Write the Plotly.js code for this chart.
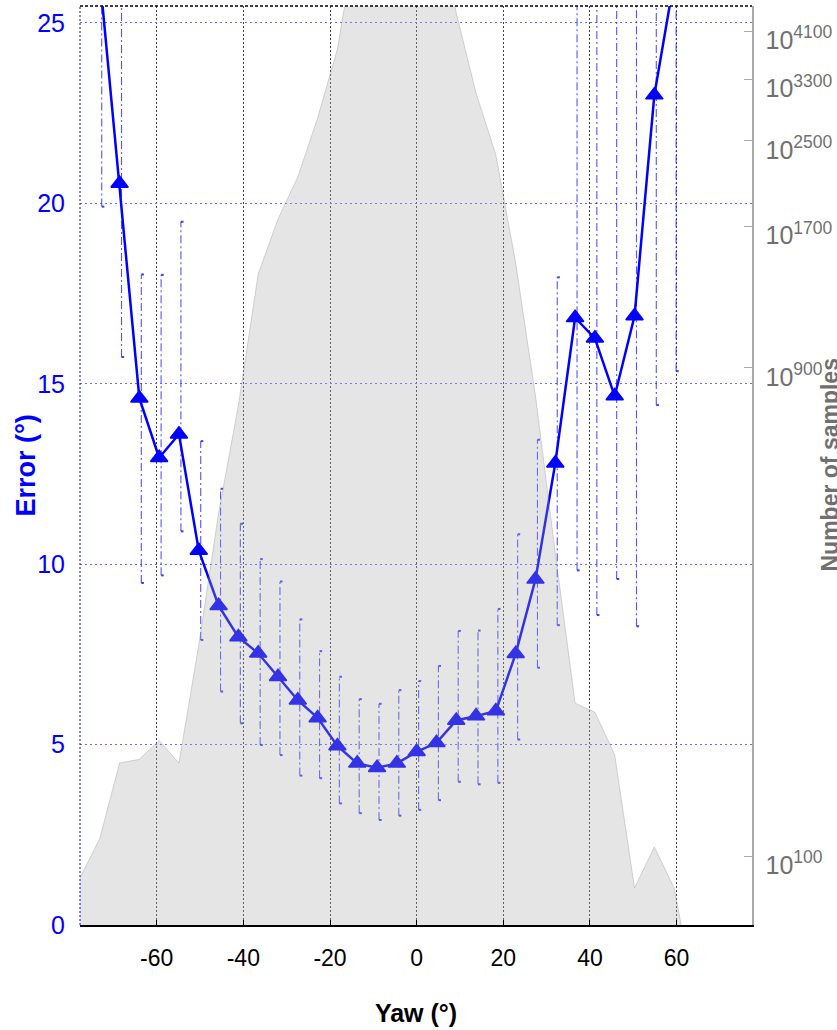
<!DOCTYPE html>
<html>
<head>
<meta charset="utf-8">
<script src="https://cdn.plot.ly/plotly-3.0.1.min.js"></script>
<style>html,body{margin:0;padding:0;background:#fff;}#chart{width:837px;height:1030px;}</style>
</head>
<body>
<div id="chart"></div>
<script>
// Yaw bin centres (degrees)
const yaw = [-77.71, -73.14, -68.57, -64.00, -59.43, -54.86, -50.29, -45.71, -41.14, -36.57,
             -32.00, -27.43, -22.86, -18.29, -13.71, -9.14, -4.57, 0.00, 4.57, 9.14,
             13.71, 18.29, 22.86, 27.43, 32.00, 36.57, 41.14, 45.71, 50.29, 54.86,
             59.43, 64.00, 68.57, 73.14, 77.71];
// Mean error (deg) per bin
const errMean = [null, 26.3, 20.55, 14.6, 12.95, 13.6, 10.38, 8.85, 7.98, 7.53,
                 6.88, 6.23, 5.74, 4.96, 4.48, 4.36, 4.48, 4.80, 5.05, 5.67,
                 5.79, 5.93, 7.52, 9.58, 12.80, 16.83, 16.26, 14.66, 16.88, 23.00,
                 26.2, null, null, null, null];
// Upper / lower bound of the error bars (deg)
const errHigh = [null, 32.7, 25.6, 18.03, 18.02, 19.49, 13.41, 12.09, 11.12, 10.14,
                 9.52, 8.47, 7.59, 6.88, 6.26, 6.13, 6.51, 6.76, 7.18, 8.15,
                 8.16, 8.76, 10.83, 13.45, 17.95, 26.5, 26.5, 27.0, 28.0, 31.0,
                 37.0, null, null, null, null];
const errLow = [null, 19.91, 15.74, 9.48, 9.69, 10.91, 7.90, 6.47, 5.59, 4.99,
                4.71, 4.14, 4.07, 3.37, 3.10, 2.91, 3.03, 3.19, 3.46, 3.97,
                3.90, 3.94, 5.14, 7.13, 8.31, 9.83, 8.59, 9.59, 8.28, 14.41,
                15.35, null, null, null, null];
// Number of samples per bin, as the power of ten (N = 10^value)
const samplesExp = [90.6, 108.2, 152, 154.5, 168.2, 152, 258.5, 468, 761, 1373,
                    1760, 2126, 2772, 3782, 6430, 9000, 11000, 11000, 6980, 4446,
                    3102, 2348, 1443, 793, 391, 199, 191, 157.6, 86.6, 104.1,
                    86.6, 54.5, null, null, null];
// Right-axis ticks (powers of ten)
const sampleTicks = [100, 900, 1700, 2500, 3300, 4100];
const sampleTickText = sampleTicks.map(v => '10<sup>' + v + '</sup>');
const xTicks = [-60, -40, -20, 0, 20, 40, 60];
const xTickText = ['-60', '-40', '-20', '0', '20', '40', '60'];
const yTicks = [0, 5, 10, 15, 20, 25];

// ---- build traces ----
const BAR_OFFSET = 0.45, CAP = 0.6;
const barX = [], barY = [], capX = [], capY = [];
yaw.forEach((x, i) => {
  if (errMean[i] == null) return;
  const bx = x + BAR_OFFSET;
  barX.push(bx, bx, null); barY.push(errLow[i], errHigh[i], null);
  capX.push(bx, bx + CAP, null, bx, bx + CAP, null);
  capY.push(errHigh[i], errHigh[i], null, errLow[i], errLow[i], null);
});

const sx = [], sy = [];
yaw.forEach((x, i) => { if (samplesExp[i] != null) { sx.push(x); sy.push(samplesExp[i]); } });
const BASE = 10; // below axis range, closes polygon
const polyX = sx.concat([sx[sx.length - 1], sx[0]]);
const polyY = sy.concat([BASE, BASE]);

const traces = [
  {x: barX, y: barY, mode: 'lines', yaxis: 'y', hoverinfo: 'skip',
   line: {color: 'rgba(40,40,255,0.8)', width: 1.1, dash: '8px,3px,2px,3px'}},
  {x: capX, y: capY, mode: 'lines', yaxis: 'y', hoverinfo: 'skip',
   line: {color: 'rgba(40,40,255,0.9)', width: 2}},
  {x: yaw, y: errMean, mode: 'lines+markers', yaxis: 'y', connectgaps: false,
   line: {color: '#0000ff', width: 2.5},
   marker: {symbol: 'triangle-up', size: 15, color: '#0000ff', line: {color: '#0000ff', width: 1.5}}},
  {x: polyX, y: polyY, mode: 'lines', yaxis: 'y2', fill: 'toself', hoverinfo: 'skip',
   fillcolor: 'rgba(170,170,170,0.3)', line: {color: 'rgba(140,140,140,0.35)', width: 1}}
];

const layout = {
  width: 837, height: 1030,
  margin: {l: 80, r: 85, t: 6, b: 105},
  paper_bgcolor: '#ffffff', plot_bgcolor: '#ffffff',
  showlegend: false,
  xaxis: {
    range: [-77.7, 77.4], tickvals: xTicks, ticktext: xTickText, ticks: 'inside', ticklen: 5, tickcolor: '#000',
    showline: true, linecolor: '#000', linewidth: 1.5, zeroline: false,
    showgrid: true, gridcolor: '#444444', griddash: '2px,2px', gridwidth: 1,
    tickfont: {family: 'Liberation Sans, Arial, sans-serif', size: 23, color: '#000'},
    ticklabelstandoff: 12,
    title: {text: 'Yaw (°)', standoff: 34,
            font: {family: 'Liberation Sans, Arial, sans-serif', size: 25, color: '#000', weight: 'bold'}}
  },
  yaxis: {
    range: [0, 25.47], tickvals: yTicks, ticks: '', zeroline: false, showline: false,
    showgrid: true, gridcolor: '#6a6aff', griddash: '2px,3px', gridwidth: 1,
    tickfont: {family: 'Liberation Sans, Arial, sans-serif', size: 25, color: '#0000ff'},
    ticklabelstandoff: 14
  },
  yaxis2: {
    type: 'log', range: [1.8651, 3.6618], overlaying: 'y', side: 'right',
    tickvals: sampleTicks, ticktext: sampleTickText,
    ticks: 'inside', ticklen: 8, tickcolor: '#aaaaaa', tickwidth: 1,
    showline: true, linecolor: '#aaaaaa', linewidth: 1.5,
    showgrid: false, zeroline: false,
    tickfont: {family: 'Liberation Sans, Arial, sans-serif', size: 25, color: '#707070'},
    ticklabelstandoff: 7, ticklabelshift: 9
  },
  shapes: [
    {type: 'line', xref: 'paper', yref: 'paper', x0: 0, x1: 1, y0: 1, y1: 1,
     line: {color: '#000', width: 1.3, dash: '3px,2px'}},
    {type: 'line', xref: 'paper', yref: 'paper', x0: 0, x1: 0, y0: 0, y1: 1,
     line: {color: '#0000ff', width: 1, dash: '2px,2px'}}
  ],
  annotations: [
    {text: 'Error (°)', xref: 'paper', yref: 'paper', x: (25 - 80) / 672, y: 0.5,
     xanchor: 'center', yanchor: 'middle', textangle: -90, showarrow: false,
     font: {family: 'Liberation Sans, Arial, sans-serif', size: 27, color: '#0000ff', weight: 'bold'}},
    {text: 'Number of samples', xref: 'paper', yref: 'paper', x: (829 - 80) / 672, y: 0.5,
     xanchor: 'center', yanchor: 'middle', textangle: -90, showarrow: false,
     font: {family: 'Liberation Sans, Arial, sans-serif', size: 23, color: '#707070', weight: 'bold'}}
  ]
};

Plotly.newPlot('chart', traces, layout, {displayModeBar: false, staticPlot: true});
</script>
</body>
</html>
